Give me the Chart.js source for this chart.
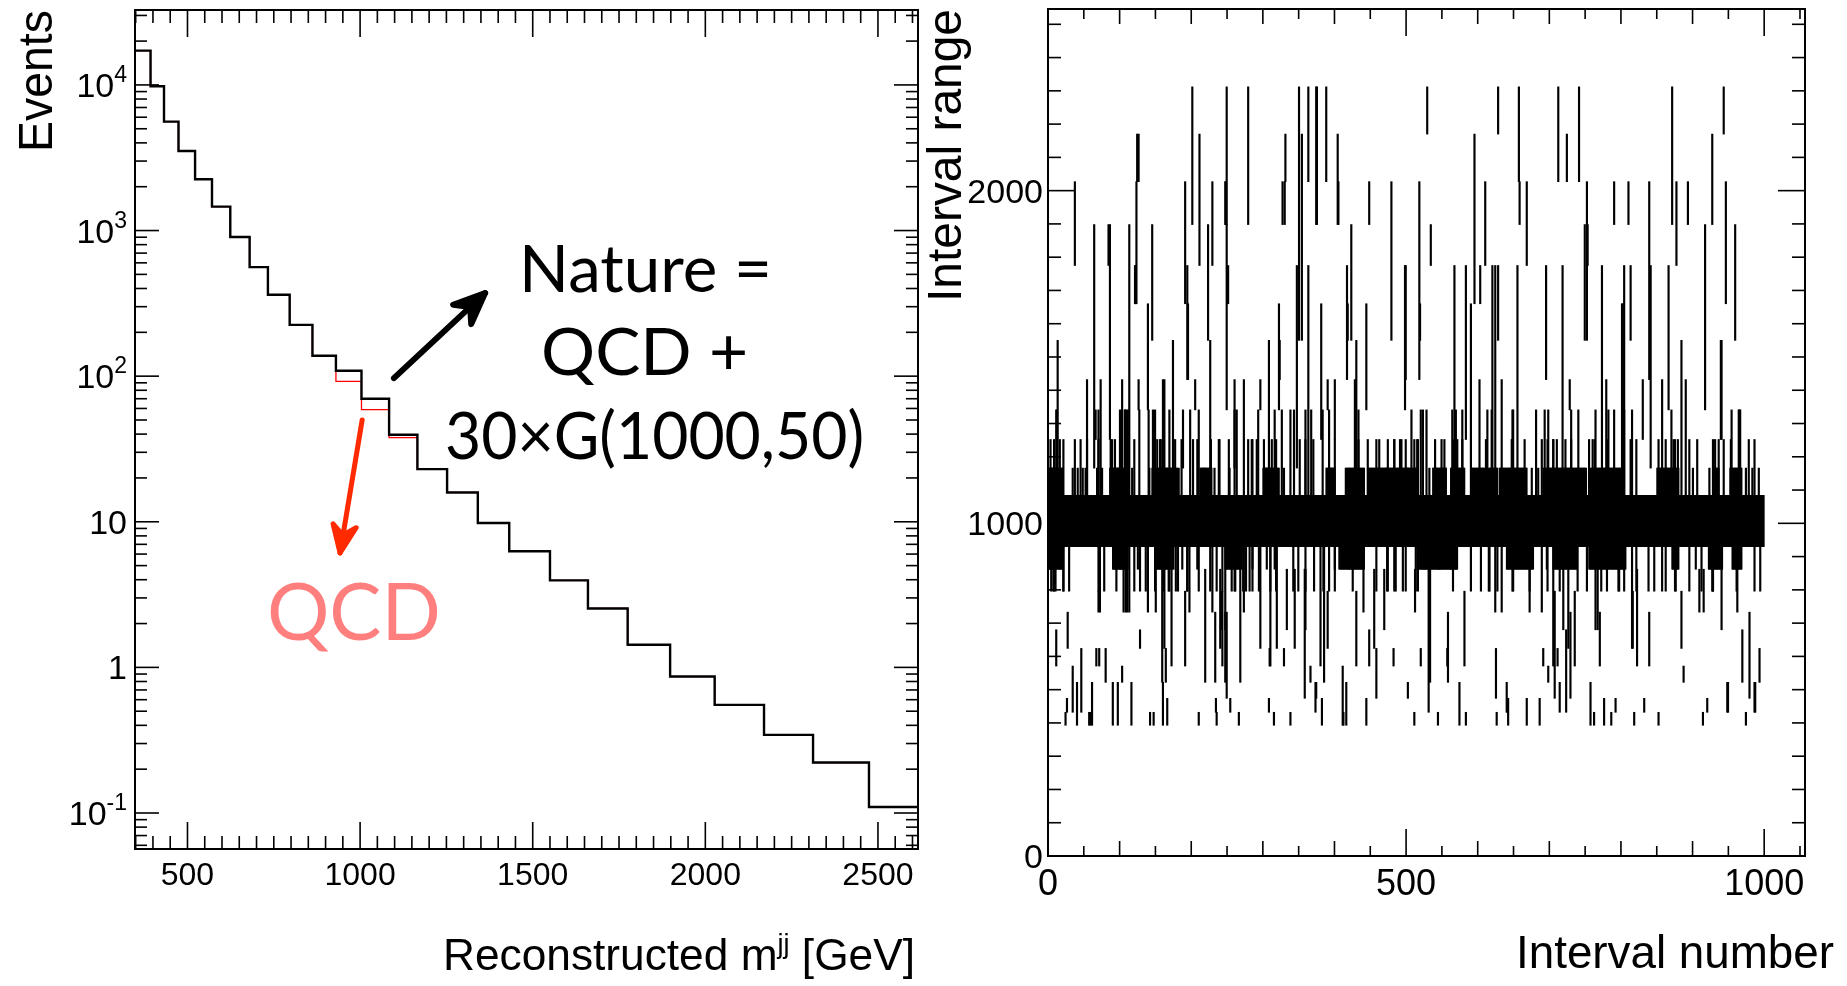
<!DOCTYPE html>
<html>
<head>
<meta charset="utf-8">
<script src="https://cdn.jsdelivr.net/npm/chart.js@4.4.1/dist/chart.umd.min.js"></script>
<style>
  html, body { margin: 0; padding: 0; background: #fff; }
  body { width: 1847px; height: 986px; position: relative; overflow: hidden; }
  canvas { position: absolute; top: 0; }
  #massChart { left: 0; }
  #intervalChart { left: 925px; }
</style>
</head>
<body>
<canvas id="massChart" width="925" height="986"></canvas>
<canvas id="intervalChart" width="922" height="986"></canvas>
<script>
// ============================================================
//  Dijet mass spectrum (left) + interval scan (right)
// ============================================================

// bin edges of the mass histogram [GeV]; interval ends sit on the same edges
const massEdges = [350, 393, 432, 474, 522, 571, 624, 680, 733, 796, 862, 930, 1004, 1084,
                   1166, 1252, 1341, 1432, 1550, 1660, 1775, 1898, 2027, 2170, 2312, 2474, 2620];
const natureCounts = [17200, 9800, 5600, 3520, 2250, 1460, 902, 561, 362, 225, 138, 109, 70, 39.6,
                      23.0, 15.9, 9.8, 6.27, 3.96, 2.54, 1.43, 0.865, 0.553, 0.344, 0.222, 0.110];
const qcdCounts    = [17200, 9800, 5600, 3520, 2250, 1460, 902, 561, 362, 225, 138, 92, 59, 37.8,
                      23.0, 15.9, 9.8, 6.27, 3.96, 2.54, 1.43, 0.865, 0.553, 0.344, 0.222, 0.110];

const massTicks     = [500, 1000, 1500, 2000, 2500];
const eventDecades  = [-1, 0, 1, 2, 3, 4];
const intervalTicks = [0, 500, 1000];
const rangeTicks    = [0, 1000, 2000];

// interval scan: every interval covers the core [edge 11, edge 13];
// runs where the core reaches up to edge 14 / down to edge 10
const INTERVAL_COUNT = 1000;
const upperRuns = [[0,20],[86,111],[145,180],[212,228],[300,322],[388,400],[415,441],[446,516],
                   [537,555],[562,581],[590,609],[615,627],[630,668],[691,751],[757,801],[850,880],
                   [929,936],[952,968]];
const lowerRuns = [[0,20],[90,111],[149,175],[247,270],[406,441],[515,571],[640,677],[705,738],
                   [755,806],[871,880],[922,941],[955,968]];

// intervals that stop just above / below the core
const toEdge15 = [8,37,45,54,70,87,120,157,161,177,186,202,227,239,252,285,301,318,351,359,400,433,
                  458,474,483,491,499,516,540,549,553,565,578,611,648,689,697,705,722,730,755,763,
                  780,813,821,862,879,895,928,936,953,978,986];
const toEdge16 = [12,70,103,107,111,140,149,169,198,210,260,293,326,338,367,392,433,507,520,528,569,
                  578,619,648,681,693,730,804,870,965];
const fromEdge9 = [8,21,29,70,78,95,120,136,149,161,169,181,194,210,235,243,260,272,285,310,318,342,
                   359,371,384,400,425,458,474,483,495,516,532,565,590,615,627,648,672,697,714,739,
                   772,796,821,838,862,895,912,928,961,986,994];

// other intervals reaching outside the core: [interval, low edge, high edge]
const spikes = [
  [3,13,15],[6,12,14],[11,13,16],[13,12,18],[16,12,15],[21,11,15],[34,13,14],[37,20,22],[41,13,14],
  [48,12,14],[52,13,14],[54,11,17],[64,14,21],[66,15,16],[68,13,14],[73,12,17],[75,13,14],[84,20,21],
  [86,15,21],[89,13,15],[93,12,15],[97,13,14],[100,13,16],[103,12,17],[107,13,16],[109,10,16],[113,8,21],
  [117,13,14],[121,19,20],[122,19,20],[124,22,23],[126,22,23],[127,13,16],
  [1,10,11],[4,9,12],[7,9,11],[10,9,12],[11,5,7],[21,9,11],[27,6,8],[26,2,3],[24,1,2],[34,2,5],[40,1,4],
  [46,2,6],[57,1,2],[59,1,2],[61,1,4],[67,5,6],[70,8,9],[71,5,6],[72,8,12],[80,4,6],[90,1,4],[94,10,11],
  [97,1,4],[101,10,12],[103,4,5],[105,8,11],[108,8,11],[110,8,11],[116,1,4],[125,10,11],

  [123,19,22],[126,16,17],[139,16,19],[141,13,14],[145,18,21],[146,13,16],[152,12,15],[156,13,15],
  [160,13,17],[162,12,17],[166,13,14],[174,12,18],[177,13,14],[182,13,14],[188,14,16],[191,19,22],
  [194,17,20],[195,17,19],[201,21,24],[205,16,17],[208,13,15],[211,20,23],[217,13,14],[223,18,21],
  [226,13,18],[229,20,22],[232,13,14],[238,13,15],[247,21,22],[249,16,21],
  [128,9,11],[128,6,7],[139,8,12],[142,1,2],[147,1,2],[150,8,11],[159,4,11],[160,1,4],[162,6,10],
  [164,4,6],[166,1,3],[168,9,11],[172,5,10],[178,9,11],[187,10,11],[191,5,9],[194,9,11],[197,8,11],
  [208,10,12],[210,1,2],[219,4,10],[226,9,11],[229,8,11],[233,4,8],[234,2,3],[235,1,2],[240,6,10],
  [241,7,9],[243,5,9],[247,7,11],

  [248,21,22],[249,21,24],[251,19,20],[253,13,14],[260,14,17],[263,13,16],[273,13,17],[279,21,24],
  [279,13,15],[284,13,15],[291,13,15],[296,16,17],[303,13,14],[306,13,14],[308,14,18],[310,13,14],
  [312,13,15],[316,14,16],[322,16,19],[323,17,18],[327,21,22],[329,13,14],[330,21,22],[331,22,23],
  [343,13,16],[347,14,20],[350,18,24],[354,18,23],[359,13,16],[363,22,24],[363,13,20],[370,13,15],
  [375,21,24],
  [247,4,8],[249,3,8],[254,2,3],[256,9,11],[261,9,11],[266,1,2],[268,4,11],[273,8,11],[276,9,11],
  [281,9,11],[285,10,11],[294,9,11],[296,6,11],[305,10,11],[308,2,3],[309,5,6],[310,5,12],[315,1,2],
  [316,10,11],[319,6,11],[329,5,6],[333,7,10],[338,1,2],[344,6,10],[349,9,11],[358,3,10],[359,7,10],
  [366,4,5],[373,2,4],

  [374,21,24],[381,15,19],[383,13,16],[388,22,24],[390,16,17],[395,13,14],[400,15,17],[404,21,23],
  [405,21,22],[417,17,20],[418,18,19],[423,18,21],[428,14,17],[430,13,18],[444,16,19],[446,13,15],
  [448,21,22],[462,13,15],[472,13,14],[479,18,22],[483,13,15],[493,13,15],[498,16,20],
  [374,3,4],[380,5,11],[382,1,3],[385,4,11],[390,6,9],[392,9,11],[400,10,11],[411,1,5],[412,1,2],
  [416,1,4],[420,10,11],[430,5,9],[440,8,11],[444,1,3],[448,5,7],[455,6,10],[458,3,6],[469,7,10],
  [473,9,11],[482,5,6],[485,9,11],

  [499,17,20],[502,13,14],[511,13,15],[515,13,15],[518,17,22],[519,18,19],[523,13,16],[529,23,24],
  [532,13,14],[534,20,21],[541,13,14],[550,13,14],[555,13,14],[564,13,16],[567,14,20],[571,13,15],
  [583,15,20],[590,12,19],[595,19,23],[602,13,17],[603,19,20],[610,20,22],[613,13,16],[620,13,20],
  [499,9,11],[502,3,4],[511,1,2],[512,8,10],[513,9,11],[520,5,6],[525,10,11],[531,2,10],[533,4,10],
  [544,1,2],[546,10,11],[557,5,6],[558,4,8],[562,10,11],[569,10,11],[574,1,4],[581,5,9],[583,1,2],
  [604,9,11],[616,9,11],[625,3,6],[626,1,2],

  [624,13,20],[628,23,24],[628,18,20],[633,14,17],[647,13,15],[649,13,16],[655,14,20],[657,22,24],
  [658,21,22],[665,13,15],[668,20,22],[675,13,14],[684,13,14],[695,17,20],[698,13,16],[705,13,15],
  [710,13,15],[712,22,24],[718,13,20],[724,22,23],[728,16,17],[740,13,16],[741,22,24],[749,18,21],
  [624,8,11],[633,8,11],[640,2,4],[641,2,3],[642,1,3],[649,9,11],[668,1,3],[672,8,11],[686,1,3],
  [689,8,11],[691,5,6],[696,10,11],[698,4,5],[705,5,11],[707,3,9],[711,5,6],[714,2,4],[719,7,10],
  [723,2,7],[726,6,11],[729,3,8],[735,5,9],

  [752,18,22],[753,20,21],[760,13,15],[764,13,16],[773,13,20],[779,14,17],[782,13,16],[790,21,22],
  [790,13,16],[801,13,19],[802,13,19],[804,13,20],[810,21,22],[813,18,20],[815,13,16],[830,15,17],
  [839,17,22],[841,14,20],[852,13,15],[857,13,17],[866,16,20],[871,21,24],[873,13,15],
  [752,9,11],[757,1,4],[762,1,2],[764,7,11],[767,7,11],[770,5,8],[776,1,3],[780,9,11],[786,1,2],
  [792,2,3],[797,9,11],[804,9,11],[815,6,11],[816,6,9],[818,1,2],[822,5,10],[832,2,3],[839,5,8],
  [846,9,11],[852,1,2],[857,9,11],

  [875,13,15],[877,20,22],[884,13,18],[890,13,17],[893,21,22],[900,13,14],[906,13,15],[917,16,21],
  [923,13,14],[927,21,23],[931,13,15],[939,15,18],[940,15,18],[943,23,24],[943,13,15],[946,19,22],
  [954,13,16],[959,18,21],[964,13,16],[966,13,16],[974,13,14],[983,13,14],[992,13,14],
  [875,9,11],[876,9,11],[884,6,9],[887,4,5],[904,10,11],[909,8,10],[914,1,2],[915,8,10],[920,2,3],
  [927,9,11],[928,9,11],[940,7,11],[948,2,4],[949,2,4],[962,8,11],[969,4,7],[974,1,2],[979,3,8],
  [986,2,4],[987,2,4],[993,4,6]
];

// axis ranges
const MASS_MIN = 348, MASS_MAX = 2616;
const EVENTS_MIN = 0.0566, EVENTS_MAX = 32700;
const INDEX_MAX = 1057, RANGE_MAX = 2546;

// slide annotations, placed in data coordinates of the mass plot
const noteArrows = [
  { from: [1098, 97], to: [1362, 372], color: '#000', width: 6, head: 34 },
  { from: [1006, 50], to: [942, 6.1], color: '#ff2a00', width: 5, head: 30 }
];
const noteTexts = [
  { text: 'Nature =',      at: [1827, 378], size: 66, width: 253, color: '#000' },
  { text: 'QCD +',         at: [1824, 102], size: 66, width: 207, color: '#000' },
  { text: '30×G(1000,50)', at: [1853, 27],  size: 66, width: 419, color: '#000' },
  { text: 'QCD',           at: [982, 1.54], size: 80, width: 174, color: '#ff7f7f' }
];

const AXIS_FONT = '"Liberation Sans", Arial, sans-serif';
const NOTE_FONT = 'Lato, "Open Sans", sans-serif';

// ---------- drawing helpers ----------
function seg(ctx, x1, y1, x2, y2) {
  ctx.beginPath(); ctx.moveTo(x1, y1); ctx.lineTo(x2, y2); ctx.stroke();
}

// draw text pieces (for superscripts) on one baseline, optionally squeezed to a width
function textRuns(ctx, runs, x, y, align, width, family) {
  let natural = 0;
  runs.forEach(r => {
    ctx.font = `${r.size}px ${family || AXIS_FONT}`;
    r.w = ctx.measureText(r.text).width;
    natural += r.w;
  });
  const sx = width ? width / natural : 1;
  const total = natural * sx;
  const x0 = align === 'right' ? x - total : align === 'center' ? x - total / 2 : x;
  ctx.save();
  ctx.translate(x0, y);
  ctx.scale(sx, 1);
  ctx.textAlign = 'left';
  ctx.textBaseline = 'alphabetic';
  let cx = 0;
  runs.forEach(r => {
    ctx.font = `${r.size}px ${family || AXIS_FONT}`;
    ctx.fillText(r.text, cx, -(r.rise || 0));
    cx += r.w;
  });
  ctx.restore();
}

function rotatedTitle(ctx, text, baseX, topY, size, width) {
  ctx.save();
  ctx.translate(baseX, topY);
  ctx.rotate(-Math.PI / 2);
  textRuns(ctx, [{ text, size }], 0, 0, 'right', width);
  ctx.restore();
}

function frame(ctx, a) {
  ctx.lineWidth = 2;
  ctx.strokeStyle = '#000';
  ctx.strokeRect(a.left, a.top, a.right - a.left, a.bottom - a.top);
}

function xTick(ctx, a, px, len) {
  seg(ctx, px, a.bottom, px, a.bottom - len);
  seg(ctx, px, a.top, px, a.top + len);
}
function yTick(ctx, a, py, len) {
  seg(ctx, a.left, py, a.left + len, py);
  seg(ctx, a.right, py, a.right - len, py);
}

function arrow(ctx, p0, p1, width, head) {
  const ang = Math.atan2(p1[1] - p0[1], p1[0] - p0[0]);
  ctx.lineWidth = width;
  ctx.lineCap = 'round';
  ctx.lineJoin = 'round';
  seg(ctx, p0[0], p0[1], p1[0], p1[1]);
  const b1 = [p1[0] - head * Math.cos(ang + 0.4), p1[1] - head * Math.sin(ang + 0.4)];
  const b2 = [p1[0] - head * Math.cos(ang - 0.4), p1[1] - head * Math.sin(ang - 0.4)];
  const mid = [p1[0] - head * 0.6 * Math.cos(ang), p1[1] - head * 0.6 * Math.sin(ang)];
  ctx.fillStyle = ctx.strokeStyle;
  ctx.beginPath();
  ctx.moveTo(p1[0], p1[1]); ctx.lineTo(b1[0], b1[1]); ctx.lineTo(mid[0], mid[1]);
  ctx.lineTo(b2[0], b2[1]); ctx.closePath();
  ctx.fill(); ctx.stroke();
}

// ---------- left panel decoration ----------
const massDecor = {
  id: 'massDecor',
  afterDraw(chart) {
    const { ctx, chartArea: a, scales: { x, y } } = chart;
    ctx.save();
    ctx.fillStyle = '#000';
    ctx.strokeStyle = '#000';
    ctx.lineWidth = 1.6;

    for (let v = 350; v < MASS_MAX; v += 50) {
      xTick(ctx, a, x.getPixelForValue(v), v % 500 === 0 ? 27 : 13);
    }
    for (let d = -2; d <= 4; d++) {
      for (let m = 1; m <= 9; m++) {
        const v = m * Math.pow(10, d);
        if (v < EVENTS_MIN || v > EVENTS_MAX) continue;
        yTick(ctx, a, y.getPixelForValue(v), m === 1 ? 24 : 12);
      }
    }
    frame(ctx, a);

    massTicks.forEach(v => {
      textRuns(ctx, [{ text: String(v), size: 32 }], x.getPixelForValue(v), a.bottom + 36, 'center');
    });
    eventDecades.forEach(d => {
      const py = y.getPixelForValue(Math.pow(10, d));
      const runs = d === 0 ? [{ text: '1', size: 34 }]
                 : d === 1 ? [{ text: '10', size: 34 }]
                 : [{ text: '10', size: 34 }, { text: String(d), size: 23, rise: 15 }];
      textRuns(ctx, runs, a.left - 8, py + 12, 'right');
    });

    rotatedTitle(ctx, 'Events', 52, 10, 48, 142);
    textRuns(ctx, [{ text: 'Reconstructed m', size: 44 },
                   { text: 'jj', size: 27, rise: 17 },
                   { text: ' [GeV]', size: 44 }], 915, 970, 'right', 472);

    noteArrows.forEach(n => {
      ctx.strokeStyle = n.color;
      const p0 = [x.getPixelForValue(n.from[0]), y.getPixelForValue(n.from[1])];
      const p1 = [x.getPixelForValue(n.to[0]), y.getPixelForValue(n.to[1])];
      arrow(ctx, p0, p1, n.width, n.head);
    });
    noteTexts.forEach(n => {
      ctx.fillStyle = n.color;
      textRuns(ctx, [{ text: n.text, size: n.size }], x.getPixelForValue(n.at[0]),
               y.getPixelForValue(n.at[1]), 'center', n.width, NOTE_FONT);
    });
    ctx.restore();
  }
};

// ---------- right panel decoration ----------
const intervalDecor = {
  id: 'intervalDecor',
  afterDraw(chart) {
    const { ctx, chartArea: a, scales: { x, y } } = chart;
    ctx.save();
    ctx.fillStyle = '#000';
    ctx.strokeStyle = '#000';
    ctx.lineWidth = 1.6;

    for (let v = 0; v < INDEX_MAX; v += 50) {
      xTick(ctx, a, x.getPixelForValue(v), v % 500 === 0 ? 27 : (v % 100 === 0 ? 15 : 10));
    }
    for (let v = 0; v < RANGE_MAX; v += 100) {
      yTick(ctx, a, y.getPixelForValue(v), v % 1000 === 0 ? 27 : 13);
    }
    frame(ctx, a);

    intervalTicks.forEach(v => {
      textRuns(ctx, [{ text: String(v), size: 36 }], x.getPixelForValue(v), a.bottom + 39, 'center');
    });
    rangeTicks.forEach(v => {
      textRuns(ctx, [{ text: String(v), size: 34 }], a.left - 5, y.getPixelForValue(v) + 12, 'right');
    });

    rotatedTitle(ctx, 'Interval range', 36, 9, 48, 293);
    textRuns(ctx, [{ text: 'Interval number', size: 46 }], 909, 968, 'right', 318);
    ctx.restore();
  }
};

// ---------- build datasets ----------
const histPoints = counts => massEdges.map((e, i) => ({ x: e, y: counts[Math.min(i, counts.length - 1)] }));

const inRuns = (i, runs) => runs.some(([s, t]) => i >= s && i <= t);
const coreBars = [];
for (let i = 0; i < INTERVAL_COUNT; i++) {
  const lo = inRuns(i, lowerRuns) ? 10 : 11;
  const hi = inRuns(i, upperRuns) ? 14 : 13;
  coreBars.push({ x: i + 0.5, y: [massEdges[lo], massEdges[hi]] });
}
const bar = (i, lo, hi) => ({ x: i + 0.5, y: [massEdges[lo], massEdges[hi]] });
const spikeBars = [
  ...toEdge15.map(i => bar(i, 13, 15)),
  ...toEdge16.map(i => bar(i, 13, 16)),
  ...fromEdge9.map(i => bar(i, 9, 11)),
  ...spikes.map(([i, lo, hi]) => bar(i, lo, hi))
];

const quiet = { legend: { display: false }, tooltip: { enabled: false } };

// the first dataset ends up on top: Nature covers QCD wherever they agree
new Chart(document.getElementById('massChart'), {
  type: 'line',
  data: {
    datasets: [
      { data: histPoints(natureCounts), stepped: true, borderColor: '#000', borderWidth: 2.4,
        pointRadius: 0, fill: false },
      { data: histPoints(qcdCounts), stepped: true, borderColor: '#ff0000', borderWidth: 1.3,
        pointRadius: 0, fill: false }
    ]
  },
  options: {
    responsive: false, animation: false, events: [],
    layout: { padding: { left: 135, right: 7, top: 10, bottom: 137 } },
    scales: {
      x: { type: 'linear', min: MASS_MIN, max: MASS_MAX, display: false },
      y: { type: 'logarithmic', min: EVENTS_MIN, max: EVENTS_MAX, display: false }
    },
    plugins: quiet
  },
  plugins: [massDecor]
});

new Chart(document.getElementById('intervalChart'), {
  type: 'bar',
  data: {
    datasets: [
      { data: coreBars, backgroundColor: '#000', barThickness: 1, grouped: false, borderWidth: 0 },
      { data: spikeBars, backgroundColor: '#000', barThickness: 1.5, grouped: false, borderWidth: 0 }
    ]
  },
  options: {
    responsive: false, animation: false, events: [],
    layout: { padding: { left: 123, right: 42, top: 9, bottom: 130 } },
    scales: {
      x: { type: 'linear', min: 0, max: INDEX_MAX, offset: false, display: false },
      y: { type: 'linear', min: 0, max: RANGE_MAX, display: false }
    },
    plugins: quiet
  },
  plugins: [intervalDecor]
});
</script>
</body>
</html>
